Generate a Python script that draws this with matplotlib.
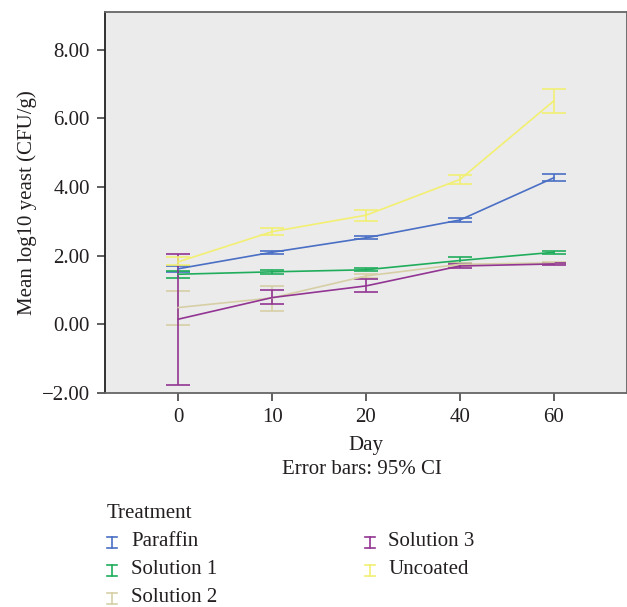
import matplotlib
matplotlib.use("Agg")
import matplotlib.pyplot as plt
from matplotlib.lines import Line2D
import numpy as np

days = ["0", "10", "20", "40", "60"]
treatments = ["Paraffin", "Solution 1", "Solution 2", "Solution 3", "Uncoated"]
colors = ["#4a6fc4", "#1fad5c", "#d6cfa6", "#923593", "#f2ef72"]

means = {
    "Paraffin":   [1.62, 2.10, 2.52, 3.04, 4.27],
    "Solution 1": [1.46, 1.53, 1.59, 1.86, 2.10],
    "Solution 2": [0.49, 0.77, 1.41, 1.75, 1.79],
    "Solution 3": [0.15, 0.78, 1.12, 1.70, 1.76],
    "Uncoated":   [1.82, 2.70, 3.18, 4.22, 6.51],
}
lower = {
    "Paraffin":   [1.52, 2.05, 2.48, 2.99, 4.17],
    "Solution 1": [1.36, 1.47, 1.54, 1.78, 2.06],
    "Solution 2": [-0.01, 0.38, 1.35, 1.70, 1.75],
    "Solution 3": [-1.76, 0.58, 0.94, 1.65, 1.72],
    "Uncoated":   [1.72, 2.60, 3.02, 4.10, 6.16],
}
upper = {
    "Paraffin":   [1.70, 2.15, 2.56, 3.09, 4.37],
    "Solution 1": [1.56, 1.59, 1.64, 1.95, 2.14],
    "Solution 2": [0.98, 1.12, 1.47, 1.80, 1.83],
    "Solution 3": [2.05, 1.00, 1.32, 1.75, 1.80],
    "Uncoated":   [1.95, 2.80, 3.33, 4.35, 6.86],
}

plt.rcParams['font.family'] = ['Liberation Serif', 'DejaVu Serif']
TXT = "#231f20"
FS = 15

W, H = 627, 607
fig = plt.figure(figsize=(W/100, H/100), dpi=100)
ax = fig.add_axes([105/W, 1-393/H, 522/W, (393-12)/H])
ax.set_facecolor("#ebebeb")

x = np.arange(len(days))
for t, c in zip(treatments, colors):
    m = np.array(means[t])
    lo = m - np.array(lower[t])
    hi = np.array(upper[t]) - m
    ax.errorbar(x, m, yerr=[lo, hi], color=c, lw=1.2, elinewidth=1.2,
                capsize=8.5, capthick=1.2, label=t)

ax.set_xlim(-0.78, 4.78)
ax.set_ylim(-2.0, 9.1)
ax.set_xticks(x)
ax.set_xticklabels(days)
ax.set_yticks([-2, 0, 2, 4, 6, 8])
ax.set_yticklabels(["\u22122.00", "0.00", "2.00", "4.00", "6.00", "8.00"])
ax.tick_params(direction='out', length=6, width=1.2, labelsize=FS, colors="#444444",
               labelcolor=TXT, pad=5)
for s in ax.spines.values():
    s.set_color("#666666")
    s.set_linewidth(1.3)
ax.spines['left'].set_color("#222222")

ax.set_ylabel("Mean log10 yeast (CFU/g)", fontsize=FS, color=TXT, labelpad=3)
ax.set_xlabel("Day", fontsize=FS, color=TXT, labelpad=6)
fig.text(362/W, 1-469/H, "Error bars: 95% CI", fontsize=FS, ha='center', va='center', color=TXT)

# legend
fig.text(107/W, 1-513/H, "Treatment", fontsize=FS, ha='left', va='center', color=TXT)
rows = [542, 570, 598]
cols = [(112, 131), (370, 388)]
for i, (t, c) in enumerate(zip(treatments, colors)):
    col = i // 3
    row = i % 3
    mx, tx = cols[col]
    y = rows[row]
    half_h, half_w = 5.5, 5
    for xs, ys in [([mx, mx], [y - half_h, y + half_h]),
                   ([mx - half_w, mx + half_w], [y - half_h, y - half_h]),
                   ([mx - half_w, mx + half_w], [y + half_h, y + half_h])]:
        fig.add_artist(Line2D([v / W for v in xs], [1 - v / H for v in ys],
                              transform=fig.transFigure, color=c, lw=1.2))
    fig.text(tx / W, 1 - y / H, t, fontsize=FS, ha='left', va='center', color=TXT)

fig.savefig("out.png", dpi=100)
